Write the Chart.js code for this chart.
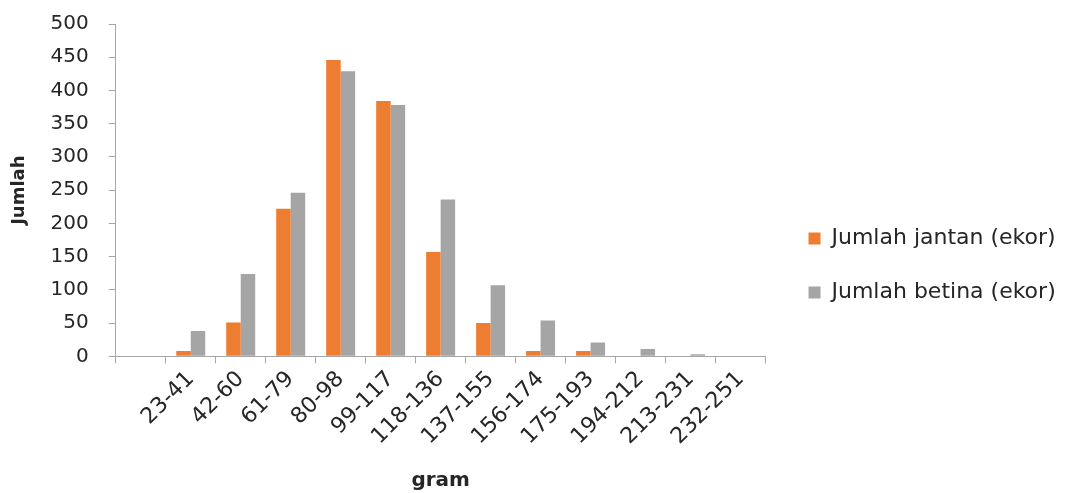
<!DOCTYPE html>
<html>
<head>
<meta charset="utf-8">
<script src="https://cdn.jsdelivr.net/npm/chart.js@4.4.1/dist/chart.umd.min.js"></script>
<style>
  html, body { margin: 0; padding: 0; background: #fff; }
  #wrap { width: 1073px; height: 493px; }
</style>
</head>
<body>
<div id="wrap"><canvas id="chart"></canvas></div>
<script>
// weight classes (gram); first slot is blank in the original sheet
const kelas = ['', '23-41', '42-60', '61-79', '80-98', '99-117', '118-136', '137-155', '156-174', '175-193', '194-212', '213-231', '232-251'];
const jantan = [0, 8, 51, 222, 446, 384, 157, 50, 8, 8, 0, 0, 0];
const betina = [0, 38, 124, 246, 429, 378, 236, 107, 54, 21, 11, 3, 0];
const yTicks = [0, 50, 100, 150, 200, 250, 300, 350, 400, 450, 500];

// widen the legend box and nudge its items right/down, like the excel original
const legendTweak = {
    id: 'legendTweak',
    afterInit(chart) {
        const lg = chart.legend;
        const fit = lg.fit;
        lg.fit = function() { fit.call(this); this.width += 36; };
    },
    afterLayout(chart) {
        const lg = chart.legend;
        lg.left += 11; lg.right += 11;
        lg.top += 7; lg.bottom += 7;
    }
};

window.onload = function() {
    const font = 'DejaVu Sans';
    const ctx = document.getElementById('chart').getContext('2d');
    new Chart(ctx, {
        type: 'bar',
        data: {
            labels: kelas,
            datasets: [{
                label: 'Jumlah jantan (ekor)',
                data: jantan,
                backgroundColor: '#ED7D31',
                categoryPercentage: 0.58,
                barPercentage: 1.0
            }, {
                label: 'Jumlah betina (ekor)',
                data: betina,
                backgroundColor: '#A5A5A5',
                categoryPercentage: 0.58,
                barPercentage: 1.0
            }]
        },
        plugins: [legendTweak],
        options: {
            responsive: true,
            maintainAspectRatio: false,
            animation: false,
            layout: { padding: { top: 24, left: 5, right: 6, bottom: 0 } },
            plugins: {
                tooltip: { enabled: false },
                legend: {
                    position: 'right',
                    labels: {
                        font: { family: font, size: 22 },
                        color: '#262626',
                        boxWidth: 12,
                        boxHeight: 12,
                        padding: 32
                    }
                }
            },
            scales: {
                x: {
                    grid: { drawOnChartArea: false, tickLength: 7, color: '#A6A6A6' },
                    border: { color: '#A6A6A6' },
                    ticks: {
                        font: { family: font, size: 22 },
                        color: '#262626',
                        maxRotation: 45,
                        minRotation: 45,
                        autoSkip: false
                    },
                    title: {
                        display: true,
                        text: 'gram',
                        font: { family: font, size: 20, weight: 'bold' },
                        color: '#262626',
                        padding: { top: 16, bottom: 0 }
                    }
                },
                y: {
                    min: 0,
                    max: 500,
                    afterBuildTicks: axis => { axis.ticks = yTicks.map(v => ({ value: v })); },
                    afterFit: axis => { axis.paddingTop = 12; },
                    grid: { drawOnChartArea: false, tickLength: 7, color: '#A6A6A6' },
                    border: { color: '#A6A6A6' },
                    ticks: {
                        font: { family: font, size: 20 },
                        color: '#262626',
                        padding: 20
                    },
                    title: {
                        display: true,
                        text: 'Jumlah',
                        font: { family: font, size: 18, weight: 'bold' },
                        color: '#262626',
                        padding: { bottom: 0 }
                    }
                }
            }
        }
    });
};
</script>
</body>
</html>
